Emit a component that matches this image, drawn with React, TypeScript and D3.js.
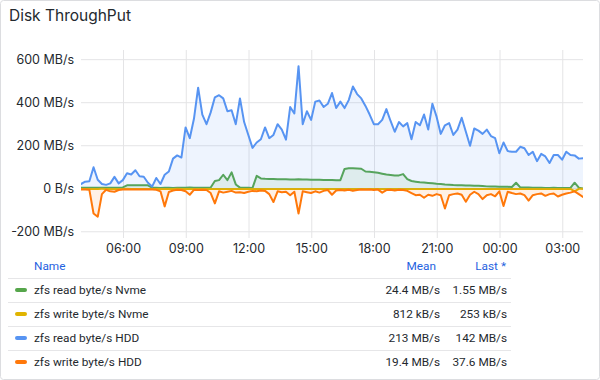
import React from 'react';
import * as d3 from 'd3';

// ---- data (12-minute samples, 24 h) ----
const START = new Date(2024, 0, 1, 3, 58);
const STEP_MIN = 12;

const readNvme = [
  5, 5, 5, 5, 5, 5, 5, 5, 5, 5,
  6, 16, 16, 16, 16, 16, 16, 5, 5, 4,
  5, 5, 4, 5, 5, 5, 6, 5, 5, 5,
  5, 6, 36, 40, 65, 40, 76, 20, 5, 5,
  5, 4, 60, 48, 46, 45, 45, 44, 44, 44,
  43, 43, 44, 43, 43, 42, 42, 42, 41, 41,
  41, 40, 40, 92, 95, 95, 94, 93, 80, 79,
  77, 74, 70, 66, 64, 62, 62, 68, 45, 36,
  33, 30, 29, 27, 25, 23, 22, 20, 19, 17,
  16, 16, 15, 15, 14, 14, 13, 11, 10, 10,
  9, 9, 9, 8, 28, 6, 6, 6, 5, 5,
  5, 4, 4, 5, 4, 4, 4, 4, 28, 5,
  1.55,
];

const writeNvme = [
  -0.8, -0.9, -0.7, -1, -0.8, -0.6, -0.8, -0.9, -1, -0.7,
  -0.8, -0.6, -0.7, -0.8, -0.9, -0.8, -0.7, -0.8, -1, -0.8,
  -0.9, -0.7, -0.8, -0.6, -0.8, -1, -0.9, -0.8, -0.7, -0.8,
  -0.8, -0.9, -1.2, -0.8, -0.7, -0.9, -0.8, -1, -0.8, -0.7,
  -0.8, -0.9, -0.8, -0.7, -0.8, -1, -0.9, -0.8, -0.7, -0.8,
  -0.9, -0.8, -1.1, -0.8, -0.7, -0.8, -0.9, -0.8, -0.7, -0.8,
  -0.8, -0.9, -0.7, -0.8, -0.8, -1, -0.8, -0.7, -0.9, -0.8,
  -0.8, -0.7, -0.9, -0.8, -0.8, -0.7, -0.9, -1, -0.8, -0.7,
  -0.8, -0.9, -0.8, -0.7, -0.8, -0.9, -0.8, -0.7, -0.8, -0.9,
  -0.8, -0.7, -0.9, -0.8, -0.8, -0.7, -0.9, -0.8, -0.7, -0.8,
  -0.8, -0.9, -0.8, -0.7, -0.8, -0.9, -0.8, -0.7, -0.8, -0.9,
  -0.8, -0.7, -0.9, -0.8, -0.8, -0.7, -0.8, -0.9, -12, -0.6,
  -0.25,
];

const readHdd = [
  22, 33, 35, 100, 42, 22, 18, 25, 55, 25,
  40, 72, 66, 86, 58, 56, 28, 10, 50, 22,
  65, 80, 140, 155, 145, 285, 235, 325, 470, 345,
  300, 355, 425, 435, 420, 360, 365, 300, 420, 310,
  250, 190, 215, 230, 285, 235, 250, 300, 275, 228,
  380, 350, 570, 300, 360, 320, 405, 410, 380, 395,
  445, 375, 405, 375, 412, 475, 440, 420, 385, 345,
  300, 300, 320, 370, 315, 265, 310, 290, 305, 230,
  310, 295, 345, 275, 395, 335, 255, 295, 305, 250,
  275, 330, 265, 200, 280, 270, 255, 275, 245, 235,
  165, 215, 175, 172, 172, 195, 188, 157, 172, 128,
  162, 150, 120, 157, 157, 135, 172, 157, 155, 140,
  142,
];

const writeHdd = [
  -4, -4, -5, -115, -130, -25, -5, -12, -14, -6,
  -4, -3, -4, -3, -4, -3, -4, -3, -5, -12,
  -82, -15, -8, -5, -6, -12, -28, -5, -6, -5,
  -6, -20, -68, -12, -18, -14, -10, -18, -16, -20,
  -14, -10, -12, -8, -10, -25, -62, -12, -16, -14,
  -30, -14, -115, -12, -16, -20, -12, -18, -10, -6,
  -28, -8, -6, -8, -5, -10, -6, -4, -5, -4,
  -6, -4, -18, -6, -5, -8, -5, -6, -10, -20,
  -30, -28, -42, -28, -33, -25, -30, -92, -30, -25,
  -22, -28, -60, -28, -14, -25, -48, -30, -25, -35,
  -12, -80, -14, -20, -25, -22, -30, -55, -30, -25,
  -22, -33, -25, -22, -36, -28, -22, -18, -12, -25,
  -37.6,
];

const seriesNames = [
  'zfs read byte/s Nvme',
  'zfs write byte/s Nvme',
  'zfs read byte/s HDD',
  'zfs write byte/s HDD',
];
const seriesColors = ['#56A64B', '#E0B400', '#5794F2', '#FF780A'];
const seriesMeans = ['24.4 MB/s', '812 kB/s', '213 MB/s', '19.4 MB/s'];
const seriesLasts = ['1.55 MB/s', '253 kB/s', '142 MB/s', '37.6 MB/s'];

const yTicks = [-200, 0, 200, 400, 600];
const yTickLabels = ['-200 MB/s', '0 B/s', '200 MB/s', '400 MB/s', '600 MB/s'];
const yDomain = [-229, 645];

const FONT = 'Inter, "Noto Sans", sans-serif';
const LEGEND_FONT = 'Roboto, "Noto Sans", sans-serif';
const TEXT = '#24292e';

export default function App() {
  const W = 600;
  const H = 380;
  const plot = { left: 81, right: 583, top: 50, bottom: 238 };

  const end = d3.timeMinute.offset(START, STEP_MIN * (readHdd.length - 1));
  const x = d3.scaleTime().domain([START, end]).range([plot.left, plot.right]);
  const y = d3.scaleLinear().domain(yDomain).range([plot.bottom, plot.top]);

  const times = readHdd.map((_, i) => d3.timeMinute.offset(START, STEP_MIN * i));
  const allSeries = [readNvme, writeNvme, readHdd, writeHdd];

  const line = d3
    .line<number>()
    .x((_, i) => x(times[i]))
    .y((d) => y(d));
  const area = d3
    .area<number>()
    .x((_, i) => x(times[i]))
    .y0(() => y(0))
    .y1((d) => y(d));

  const xTicks = x.ticks(d3.timeHour.every(3) as any);
  const fmt = d3.timeFormat('%H:%M');

  const legendTop = 266;
  const rowH = 24;

  return (
    <svg
      width={W}
      height={H}
      style={{ position: 'absolute', left: 0, top: 0, display: 'block' }}
      fontFamily={FONT}
    >
      <rect x={0.5} y={0.5} width={W - 1} height={H - 1} rx={3} fill="#fff" stroke="#dcdde0" />
      <text x={9} y={21} fontSize={15.5} fontWeight={400} fill={TEXT}>
        Disk ThroughPut
      </text>

      <defs>
        <clipPath id="plotClip">
          <rect x={plot.left} y={plot.top - 5} width={plot.right - plot.left} height={plot.bottom - plot.top + 5} />
        </clipPath>
      </defs>

      {/* grid */}
      {yTicks.map((t) => (
        <line key={'gy' + t} x1={plot.left} x2={plot.right} y1={y(t)} y2={y(t)} stroke="#e4e4e6" strokeWidth={1} />
      ))}
      {xTicks.map((t) => (
        <line
          key={'gx' + t.getTime()}
          x1={x(t)}
          x2={x(t)}
          y1={plot.top}
          y2={plot.bottom}
          stroke="#e4e4e6"
          strokeWidth={1}
        />
      ))}

      {/* y labels */}
      {yTicks.map((t, i) => (
        <text key={'ly' + t} x={74} y={y(t)} dy="0.35em" textAnchor="end" fontSize={12.5} fill={TEXT}>
          {yTickLabels[i]}
        </text>
      ))}
      {/* x labels */}
      {xTicks.map((t) => (
        <text key={'lx' + t.getTime()} x={x(t)} y={253} textAnchor="middle" fontSize={12.5} fill={TEXT}>
          {fmt(t)}
        </text>
      ))}

      {/* series */}
      <g clipPath="url(#plotClip)">
        {allSeries.map((s, k) => (
          <g key={'s' + k}>
            <path d={area(s) || ''} fill={seriesColors[k]} fillOpacity={0.1} stroke="none" />
            <path
              d={line(s) || ''}
              fill="none"
              stroke={seriesColors[k]}
              strokeWidth={2}
              strokeLinejoin="round"
              strokeLinecap="round"
            />
          </g>
        ))}
      </g>

      {/* legend */}
      <g fontFamily={LEGEND_FONT} fontSize={11.8}>
        <text x={34} y={legendTop} dy="0.35em" fill="#1F62E0">
          Name
        </text>
        <text x={436} y={legendTop} dy="0.35em" fill="#1F62E0" textAnchor="end">
          Mean
        </text>
        <text x={506} y={legendTop} dy="0.35em" fill="#1F62E0" textAnchor="end">
          Last *
        </text>
        {seriesNames.map((name, i) => {
          const cy = legendTop + rowH * (i + 1);
          return (
            <g key={'lg' + i}>
              <line x1={8} x2={511} y1={cy - 12 + 0.5} y2={cy - 12 + 0.5} stroke="#e6e6e8" />
              <rect x={15} y={cy - 2} width={12} height={4} rx={2} fill={seriesColors[i]} />
              <text x={34} y={cy} dy="0.35em" fill={TEXT}>
                {name}
              </text>
              <text x={440} y={cy} dy="0.35em" fill={TEXT} textAnchor="end">
                {seriesMeans[i]}
              </text>
              <text x={507} y={cy} dy="0.35em" fill={TEXT} textAnchor="end">
                {seriesLasts[i]}
              </text>
            </g>
          );
        })}
      </g>
    </svg>
  );
}
